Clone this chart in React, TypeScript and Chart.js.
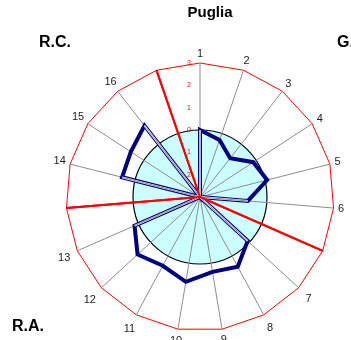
import React, { useEffect, useRef } from 'react';
import { Chart, registerables } from 'chart.js';

Chart.register(...registerables);

// ---- data ----
const axisLabels = ['1', '2', '3', '4', '5', '6', '', '7', '8', '9', '10', '11', '12', '13', '', '14', '15', '16', ''];
const seriesValues = [0, -0.3, -0.8, -0.15, 0.1, -0.85, -3, -0.1, 0.55, 0.4, 0.85, 0.5, 0.8, 0.2, -3, 0.6, 0.7, 1.05, -3];
const scaleMin = -3;
const scaleMax = 3;
const tickLabelValues = [3, 2, 1, 0, -1, -2];
const chartTitle = 'Puglia';
const groupLabels = ['R.C.', 'G.A.', 'R.A.'];

const FONT = '"Liberation Sans", Arial, Helvetica, sans-serif';
const W = 351;
const H = 340;

const decor = {
  id: 'decor',
  beforeDraw(chart: any) {
    const s = chart.scales.r;
    const ctx = chart.ctx;
    const r0 = s.getDistanceFromCenterForValue(0);
    ctx.save();
    ctx.beginPath();
    ctx.arc(s.xCenter, s.yCenter, r0, 0, Math.PI * 2);
    ctx.fillStyle = '#ccffff';
    ctx.fill();
    ctx.lineWidth = 1.2;
    ctx.strokeStyle = '#000000';
    ctx.stroke();
    ctx.restore();
  },
  afterDatasetsDraw(chart: any) {
    const s = chart.scales.r;
    const ctx = chart.ctx;
    const meta = chart.getDatasetMeta(0);
    const n = seriesValues.length;
    ctx.save();
    ctx.lineCap = 'butt';
    for (let i = 0; i < n; i++) {
      const j = (i + 1) % n;
      const a = seriesValues[i] <= scaleMin;
      const b = seriesValues[j] <= scaleMin;
      if (a === b) continue;
      const p = meta.data[i];
      const q = meta.data[j];
      ctx.beginPath();
      ctx.moveTo(p.x, p.y);
      ctx.lineTo(q.x, q.y);
      ctx.strokeStyle = '#ffffff';
      ctx.lineWidth = 1.8;
      ctx.stroke();
      ctx.strokeStyle = '#8c8c8c';
      ctx.lineWidth = 1;
      ctx.stroke();
    }
    axisLabels.forEach((l, i) => {
      if (l !== '') return;
      const p = s.getPointPosition(i, s.drawingArea);
      ctx.beginPath();
      ctx.moveTo(s.xCenter, s.yCenter);
      ctx.lineTo(p.x, p.y);
      ctx.strokeStyle = '#ff0000';
      ctx.lineWidth = 2;
      ctx.stroke();
    });
    ctx.restore();
  },
  afterDraw(chart: any) {
    const s = chart.scales.r;
    const ctx = chart.ctx;
    ctx.save();
    // tick labels
    ctx.font = `7px ${FONT}`;
    ctx.fillStyle = '#ff0000';
    ctx.textAlign = 'center';
    ctx.textBaseline = 'middle';
    tickLabelValues.forEach((v) => {
      const p = s.getPointPositionForValue(0, v);
      ctx.fillText(String(Math.abs(v)), p.x - 11, p.y);
    });
    // point labels
    ctx.font = `11px ${FONT}`;
    ctx.fillStyle = '#222222';
    axisLabels.forEach((l, i) => {
      if (l === '') return;
      const th = s.getIndexAngle(i);
      const sn = Math.sin(th);
      const cs = Math.cos(th);
      const w = ctx.measureText(l).width;
      const ext = Math.abs(sn) * w / 2 + Math.abs(cs) * 5.5;
      const low = cs < 0 ? -cs * Math.abs(sn) : 0;
      const d = s.drawingArea + 3.5 + ext + low * 8;
      const x = s.xCenter + sn * d;
      const y = s.yCenter - cs * d + low * 4;
      ctx.fillText(l, x, y);
    });
    // title and group labels
    ctx.fillStyle = '#000000';
    ctx.font = `bold 15px ${FONT}`;
    ctx.fillText(chartTitle, 210, 13);
    ctx.font = `bold 16px ${FONT}`;
    ctx.textAlign = 'left';
    ctx.fillText(groupLabels[0], 39, 43);
    ctx.fillText(groupLabels[1], 337, 43);
    ctx.fillText(groupLabels[2], 12, 327);
    ctx.restore();
  },
};

export default function App() {
  const ref = useRef<HTMLCanvasElement | null>(null);
  useEffect(() => {
    if (!ref.current) return;
    const chart = new Chart(ref.current, {
      type: 'radar',
      data: {
        labels: axisLabels,
        datasets: [
          {
            data: seriesValues,
            borderColor: '#000080',
            borderWidth: 4,
            backgroundColor: 'transparent',
            fill: false,
            pointRadius: 0,
            pointHoverRadius: 0,
            borderJoinStyle: 'miter',
            tension: 0,
          },
        ],
      },
      options: {
        responsive: false,
        animation: false,
        layout: { padding: { left: 66, top: 63, right: W - 334, bottom: H - 331 } },
        plugins: {
          legend: { display: false },
          title: { display: false },
          tooltip: { enabled: false },
        },
        scales: {
          r: {
            min: scaleMin,
            max: scaleMax,
            ticks: { display: false, stepSize: 1 },
            pointLabels: { display: false },
            grid: {
              circular: false,
              color: (c: any) => (c.tick && c.tick.value === scaleMax ? '#ff0000' : 'transparent'),
              lineWidth: 1,
            },
            angleLines: {
              color: (c: any) => (axisLabels[c.index] === '' ? '#ff0000' : '#8c8c8c'),
              lineWidth: (c: any) => (axisLabels[c.index] === '' ? 2 : 1),
            },
          },
        },
      },
      plugins: [decor],
    });
    return () => chart.destroy();
  }, []);
  return (
    <div style={{ position: 'fixed', left: 0, top: 0, width: W, height: H, overflow: 'hidden', background: '#ffffff' }}>
      <canvas ref={ref} width={W} height={H} style={{ width: W, height: H, display: 'block' }} />
    </div>
  );
}
